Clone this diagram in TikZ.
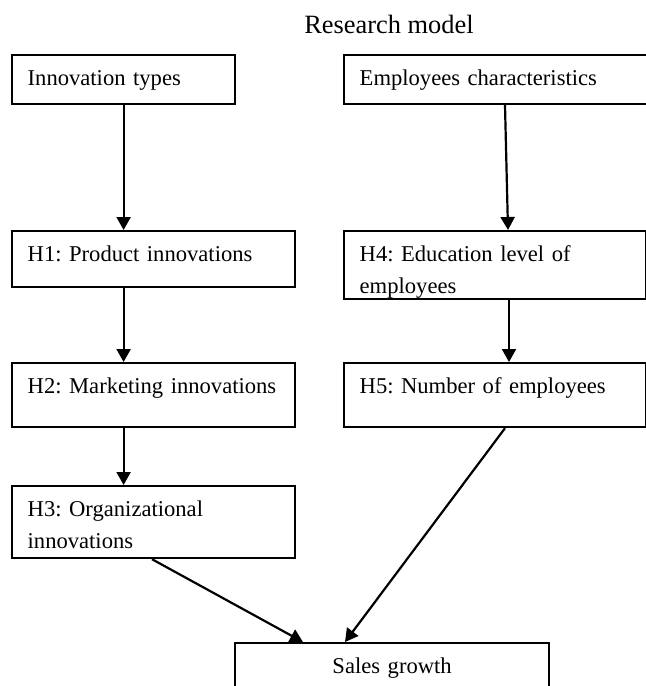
\documentclass[tikz,border=0pt]{standalone}
\usepackage{fontspec}
\setmainfont{Liberation Serif}
\usetikzlibrary{arrows.meta}
\newcommand{\boxfont}{\fontsize{11.3}{16}\selectfont\frenchspacing\hyphenpenalty=10000\relax}

\begin{document}
\begin{tikzpicture}[x=0.5pt,y=-0.5pt,
    box/.style={draw, line width=1.1pt, anchor=north west, inner xsep=7.8pt, inner ysep=0pt, align=left, text height=15pt, font=\boxfont},
    arr/.style={line width=1.1pt, -{Triangle[length=6.5pt,width=7pt]}}]
    \useasboundingbox (0,0) rectangle (646,686);
    \node[anchor=base, font=\fontsize{13.2}{16}\selectfont] (title) at (389,33) {Research model};
    \node[box, text width=95.9pt, text depth=9.5pt] (itypes) at (11,54) {Innovation types};
    \node[box, text width=142.9pt, text depth=9.5pt] (echar) at (343,54) {Employees characteristics};
    \node[box, text width=125.9pt, text depth=13pt] (h1) at (11,230) {H1: Product innovations};
    \node[box, text width=125.9pt, text depth=17pt] (h2) at (11,362) {\mbox{H2: Marketing innovations}};
    \node[box, text width=125.9pt, text depth=21pt] (h3) at (11,485) {H3: Organizational\\innovations};
    \node[box, text width=135.4pt, text depth=19pt] (h4) at (343,230) {H4: Education level of\\employees};
    \node[box, text width=135.4pt, text depth=17pt] (h5) at (343,362) {H5: Number of employees};
    \node[box, align=center, text width=141.4pt, text depth=30pt] (sales) at (234,642) {Sales growth};
    \draw[arr] (itypes.south) -- (itypes.south |- h1.north);
    \draw[arr] (itypes.south |- h1.south) -- (itypes.south |- h2.north);
    \draw[arr] (itypes.south |- h2.south) -- (itypes.south |- h3.north);
    \draw[arr] ([xshift=81pt]echar.south west) -- ([xshift=82.5pt]h4.north west);
    \draw[arr] ([xshift=83pt]h4.south west) -- ([xshift=83pt]h5.north west);
    \draw[arr] ([xshift=70.5pt]h3.south west) -- ([xshift=34.5pt]sales.north west);
    \draw[arr] ([xshift=81pt]h5.south west) -- ([xshift=55.5pt]sales.north west);
\end{tikzpicture}
\end{document}
